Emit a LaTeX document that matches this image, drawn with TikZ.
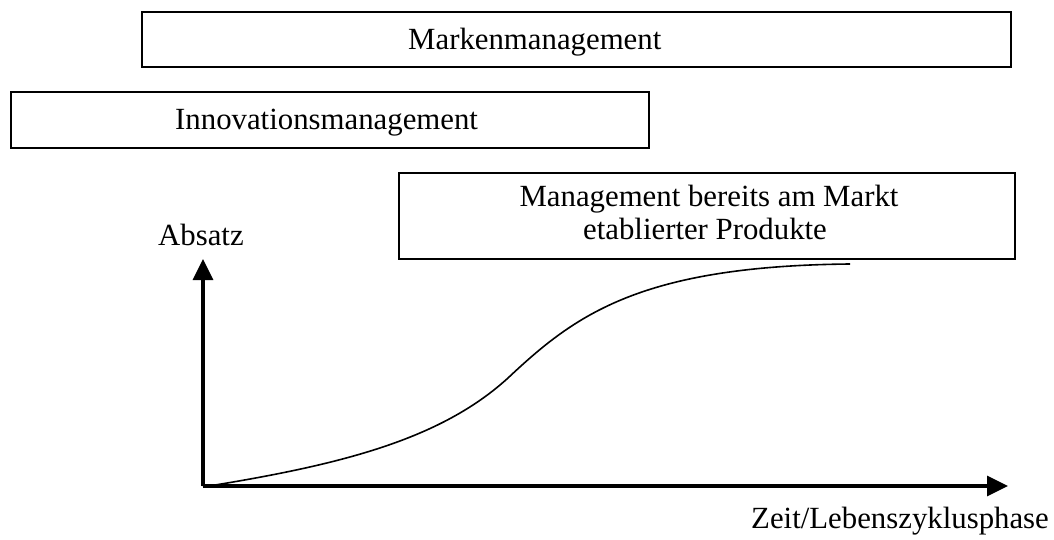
\documentclass[tikz,border=0pt]{standalone}
\usepackage{fontspec}
\setmainfont{Liberation Serif}
\usetikzlibrary{arrows.meta}
\begin{document}
\begin{tikzpicture}[x=1pt,y=-1pt,
  box/.style={draw=black,line width=1.6pt,inner sep=0pt,fill=none},
  lbl/.style={font=\fontsize{30.8}{32}\selectfont,inner sep=0pt},
  axis/.style={line width=3.2pt,-{Triangle[length=21pt,width=20pt]}},
  curve/.style={line width=1.6pt}]
\useasboundingbox (0,0) rectangle (1054,540);
% boxes
\node[box,minimum width=869pt,minimum height=55pt] (mark) at (576.5,39.5) {};
\node[box,minimum width=638pt,minimum height=56pt] (inno) at (330,120) {};
\node[box,minimum width=616pt,minimum height=86pt] (etab) at (707,216) {};
% box texts
\node[lbl,anchor=base west] (tmark) at (408,50) {Markenmanagement};
\node[lbl,anchor=base west] (tinno) at (175,130) {Innovationsmanagement};
\node[lbl,anchor=base] (tetab1) at (709,207) {Management bereits am Markt};
\node[lbl,anchor=base] (tetab2) at (705,239) {etablierter Produkte};
% axes
\coordinate (o) at (203,486);
\coordinate (ytip) at (203,259);
\coordinate (xtip) at (1008,486);
\draw[axis] (o) -- (ytip);
\draw[axis] (o) -- (xtip);
\node[lbl,anchor=base west] (yl) at (158,245) {Absatz};
\node[lbl,anchor=base west] (xl) at (751,528) {Zeit/Lebenszyklusphase};
% S-curve
\coordinate (cstart) at (203,487);
\coordinate (cmid) at (508,378);
\coordinate (cend) at (850,264);
\draw[curve] (cstart) .. controls (340,465) and (440,440) .. (cmid)
  .. controls (575,315) and (640,266) .. (cend);
\end{tikzpicture}
\end{document}
